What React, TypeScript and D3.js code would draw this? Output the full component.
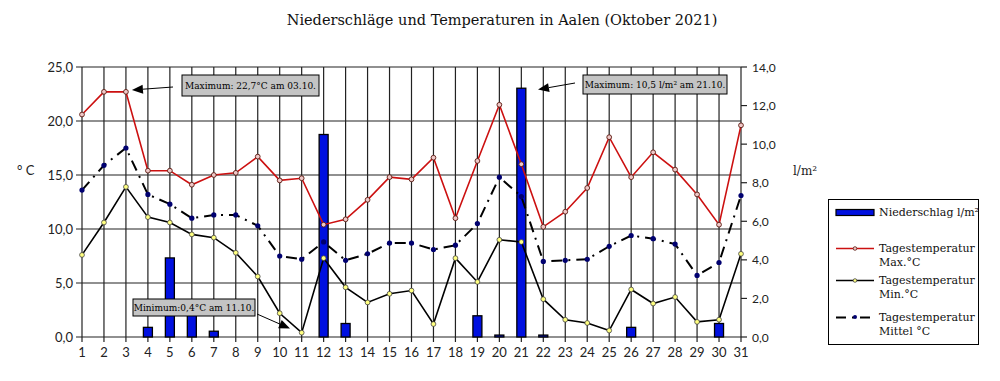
import React from "react";
import * as d3 from "d3";

const days = d3.range(1, 32);
const tMax = [20.6, 22.7, 22.7, 15.4, 15.4, 14.1, 15.0, 15.2, 16.7, 14.5, 14.7, 10.4, 10.9, 12.7, 14.8, 14.6, 16.6, 11.0, 16.3, 21.5, 16.0, 10.2, 11.6, 13.8, 18.5, 14.8, 17.1, 15.5, 13.2, 10.4, 19.6];
const tMin = [7.6, 10.6, 13.9, 11.1, 10.6, 9.5, 9.2, 7.8, 5.6, 2.2, 0.4, 7.3, 4.6, 3.2, 4.0, 4.3, 1.2, 7.3, 5.1, 9.0, 8.8, 3.5, 1.6, 1.3, 0.6, 4.4, 3.1, 3.7, 1.4, 1.6, 7.7];
const tMean = [13.6, 15.9, 17.5, 13.2, 12.3, 11.0, 11.3, 11.3, 10.3, 7.5, 7.2, 8.8, 7.1, 7.7, 8.7, 8.7, 8.1, 8.5, 10.5, 14.8, 13.0, 7.0, 7.1, 7.2, 8.4, 9.4, 9.1, 8.6, 5.7, 6.9, 13.1];
const precip = [0, 0, 0, 0.5, 4.1, 1.5, 0.3, 0, 0, 0, 0, 10.5, 0.7, 0, 0, 0, 0, 0, 1.1, 0.1, 12.9, 0.1, 0, 0, 0, 0.5, 0, 0, 0, 0.7, 0];
const tempTicks = [0, 5, 10, 15, 20, 25];
const precipTicks = [0, 2, 4, 6, 8, 10, 12, 14];

const fmt = (v: number) => v.toFixed(1).replace(".", ",");

export default function App() {
  const x = d3.scaleLinear().domain([1, 31]).range([82, 741]);
  const yT = d3.scaleLinear().domain([0, 25]).range([337, 67]);
  const yP = d3.scaleLinear().domain([0, 14]).range([337, 67]);
  const line = (arr: number[]) =>
    d3.line<number>().x((_, i) => x(days[i])).y((d) => yT(d))(arr) as string;
  const sans = "Lato, 'Open Sans', sans-serif";
  const serif = "'DejaVu Serif', serif";
  const barW = 9;

  const arrow = (x1: number, y1: number, x2: number, y2: number, key: string) => {
    const ang = Math.atan2(y2 - y1, x2 - x1);
    const L = 11, W = 4.5;
    const bx = x2 - L * Math.cos(ang), by = y2 - L * Math.sin(ang);
    const px = -Math.sin(ang) * W, py = Math.cos(ang) * W;
    return (
      <g key={key}>
        <line x1={x1} y1={y1} x2={bx} y2={by} stroke="#000" strokeWidth={1} />
        <polygon points={`${x2},${y2} ${bx + px},${by + py} ${bx - px},${by - py}`} fill="#000" />
      </g>
    );
  };

  return (
    <div style={{ position: "absolute", left: 0, top: 0 }}>
      <svg width={1000} height={381} style={{ display: "block", background: "#fff" }}>
        <text x={502} y={25} textAnchor="middle" fontFamily={serif} fontSize={14.5} fill="#111">
          Niederschläge und Temperaturen in Aalen (Oktober 2021)
        </text>

        {/* horizontal grid */}
        {tempTicks.map((t) => (
          <line key={"h" + t} x1={76} x2={741} y1={yT(t)} y2={yT(t)} stroke="#222" strokeWidth={1.2} />
        ))}
        {/* vertical grid */}
        {days.map((d) => (
          <line key={"v" + d} x1={x(d)} x2={x(d)} y1={67} y2={342} stroke="#222" strokeWidth={1.2} />
        ))}
        {/* right axis ticks */}
        {precipTicks.map((p) => (
          <line key={"rp" + p} x1={741} x2={747} y1={yP(p)} y2={yP(p)} stroke="#222" strokeWidth={1.2} />
        ))}

        {/* bars */}
        {precip.map((p, i) =>
          p > 0 ? (
            <rect key={"b" + i} x={x(days[i]) - barW / 2} y={yP(p)} width={barW} height={yP(0) - yP(p)}
              fill="#0010e0" stroke="#000" strokeWidth={1.3} />
          ) : null
        )}

        {/* lines */}
        <path d={line(tMean)} fill="none" stroke="#000" strokeWidth={2} strokeDasharray="11,6,2,6" />
        <path d={line(tMin)} fill="none" stroke="#000" strokeWidth={1.6} />
        <path d={line(tMax)} fill="none" stroke="#cc1010" strokeWidth={1.6} />
        {tMean.map((v, i) => (
          <circle key={"mm" + i} cx={x(days[i])} cy={yT(v)} r={2.6} fill="#000070" />
        ))}
        {tMin.map((v, i) => (
          <circle key={"mn" + i} cx={x(days[i])} cy={yT(v)} r={2.4} fill="#ffff80" stroke="#444" strokeWidth={0.8} />
        ))}
        {tMax.map((v, i) => (
          <circle key={"mx" + i} cx={x(days[i])} cy={yT(v)} r={2.4} fill="#f0c8c8" stroke="#5a1a10" strokeWidth={0.9} />
        ))}

        {/* axis labels */}
        {tempTicks.map((t) => (
          <text key={"lt" + t} x={73} y={yT(t) + 4.5} textAnchor="end" fontFamily={sans} fontSize={13} fill="#222">
            {fmt(t)}
          </text>
        ))}
        {precipTicks.map((p) => (
          <text key={"rt" + p} x={752} y={yP(p) + 4.5} fontFamily={sans} fontSize={12} fill="#222">
            {fmt(p)}
          </text>
        ))}
        {days.map((d) => (
          <text key={"xt" + d} x={x(d)} y={357} textAnchor="middle" fontFamily={sans} fontSize={13} fill="#222">
            {d}
          </text>
        ))}
        <text x={17} y={175} fontFamily={sans} fontSize={13} fill="#222">° C</text>
        <text x={793} y={175} fontFamily={serif} fontSize={12} fill="#222">l/m²</text>

        {/* annotations */}
        <rect x={182} y={75} width={137} height={21} fill="#c4c4c4" stroke="#000" strokeWidth={1} />
        <text x={250.5} y={89} textAnchor="middle" fontFamily={serif} fontSize={9} fill="#000">
          Maximum: 22,7°C am 03.10.
        </text>
        {arrow(173, 87, x(3) + 6, 90, "a1")}

        <rect x={583} y={75} width={144} height={19} fill="#c4c4c4" stroke="#000" strokeWidth={1} />
        <text x={655} y={88} textAnchor="middle" fontFamily={serif} fontSize={9} fill="#000">
          Maximum: 10,5 l/m² am 21.10.
        </text>
        {arrow(575, 83, 538, 89.5, "a2")}

        <rect x={133} y={299} width={122} height={17} fill="#c4c4c4" stroke="#000" strokeWidth={1} />
        <text x={194} y={311} textAnchor="middle" fontFamily={serif} fontSize={9} fill="#000">
          Minimum:0,4°C am 11.10.
        </text>
        {arrow(257, 314, 290, 328.5, "a3")}

        {/* legend */}
        <rect x={828.5} y={199.5} width={150} height={145} fill="#fff" stroke="#000" strokeWidth={1} />
        <rect x={836} y={209.5} width={38} height={6} fill="#0010e0" stroke="#000" strokeWidth={1.2} />
        <text x={879} y={216} fontFamily={serif} fontSize={11} fill="#111">Niederschlag l/m²</text>

        <line x1={836} x2={874} y1={248.5} y2={248.5} stroke="#cc1010" strokeWidth={1.6} />
        <circle cx={855} cy={248.5} r={1.8} fill="#f0c8c8" stroke="#5a1a10" strokeWidth={0.8} />
        <text x={879} y={252} fontFamily={serif} fontSize={11} fill="#111">Tagestemperatur</text>
        <text x={879} y={266} fontFamily={serif} fontSize={11} fill="#111">Max.°C</text>

        <line x1={836} x2={874} y1={280.5} y2={280.5} stroke="#000" strokeWidth={1.6} />
        <circle cx={855} cy={280.5} r={1.8} fill="#ffff80" stroke="#444" strokeWidth={0.8} />
        <text x={879} y={284} fontFamily={serif} fontSize={11} fill="#111">Tagestemperatur</text>
        <text x={879} y={298} fontFamily={serif} fontSize={11} fill="#111">Min.°C</text>

        <line x1={836} x2={874} y1={317.5} y2={317.5} stroke="#000" strokeWidth={2} strokeDasharray="10,6,2,6" />
        <circle cx={855} cy={317} r={2} fill="#000070" />
        <text x={879} y={321} fontFamily={serif} fontSize={11} fill="#111">Tagestemperatur</text>
        <text x={879} y={335} fontFamily={serif} fontSize={11} fill="#111">Mittel °C</text>
      </svg>
    </div>
  );
}
